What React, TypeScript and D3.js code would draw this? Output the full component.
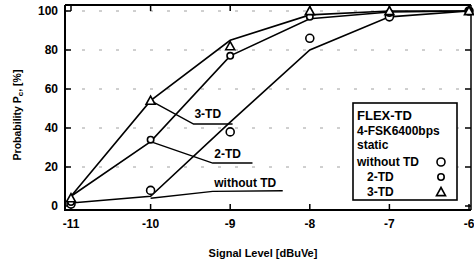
import React from "react";
import * as d3 from "d3";

const signalLevels = [-11, -10, -9, -8, -7, -6];
const xTicks = [-11, -10, -9, -8, -7, -6];
const yTicks = [0, 20, 40, 60, 80, 100];

// measured markers
const withoutTD = [1, 8, 38, 86, 97, 100];
const td2 = [2, 34, 77, 97, 99, 100];
const td3 = [4, 54, 82, 100, 100, 100];

// drawn (fitted) curves
const lineWithoutTD = [1.5, 5, 43, 80, 97, 100];
const line2TD = [5, 33, 77, 96, 99.5, 100];
const line3TD = [5, 54, 85, 98, 100, 100];

const legendLines = ["FLEX-TD", "4-FSK6400bps", "static"];

const W = 474;
const H = 265;
const FONT = "'Liberation Sans', Arial, Helvetica, sans-serif";

export default function App() {
  const x = d3.scaleLinear().domain([-11, -6]).range([71, 469]);
  const y = d3.scaleLinear().domain([0, 100]).range([206, 11]);
  const frame = { l: 65, r: 471, t: 5, b: 210 };

  const line = d3
    .line<[number, number]>()
    .x((d) => x(d[0]))
    .y((d) => y(d[1]));
  const pts = (vals: number[]) => signalLevels.map((s, i) => [s, vals[i]] as [number, number]);

  const tri = (cx: number, cy: number, s = 4.5) =>
    `M${cx},${cy - s} L${cx + s},${cy + s * 0.8} L${cx - s},${cy + s * 0.8} Z`;

  const annot = [
    { text: "3-TD", from: [-10, 54], mid: [-9.46, 42], end: [-8.97, 42], tx: -9.45, ty: 45 },
    { text: "2-TD", from: [-10, 33], mid: [-9.22, 22], end: [-8.72, 22], tx: -9.2, ty: 24.5 },
    { text: "without TD", from: [-10, 4], mid: [-9.22, 7.5], end: [-8.34, 7.8], tx: -9.2, ty: 9.5 },
  ];

  return (
    <svg width={W} height={H} style={{ position: "absolute", left: 0, top: 0, background: "#fff" }} fontFamily={FONT}>
      <rect width={W} height={H} fill="#fff" />
      {/* gridlines */}
      {yTicks.filter((t) => t > 0).map((t) => (
        <line key={"g" + t} x1={frame.l} x2={frame.r} y1={y(t)} y2={y(t)} stroke="#888" strokeWidth={0.8} strokeDasharray="3,14" />
      ))}
      {/* frame */}
      <line x1={frame.l} x2={frame.r} y1={frame.t} y2={frame.t} stroke="#000" strokeWidth={2} />
      <line x1={frame.r} x2={frame.r} y1={frame.t} y2={frame.b} stroke="#000" strokeWidth={1.5} />
      <line x1={frame.l} x2={frame.l} y1={frame.t} y2={frame.b + 1} stroke="#000" strokeWidth={2} />
      <line x1={frame.l} x2={frame.r} y1={frame.b} y2={frame.b} stroke="#000" strokeWidth={2.2} />
      {/* y ticks */}
      {yTicks.map((t) => (
        <g key={"y" + t}>
          <line x1={frame.l} x2={frame.l + 6} y1={y(t)} y2={y(t)} stroke="#000" strokeWidth={1.5} />
          <line x1={frame.r - 6} x2={frame.r} y1={y(t)} y2={y(t)} stroke="#000" strokeWidth={1.5} />
          <text x={58} y={y(t) + 4} textAnchor="end" fontSize={12} fontWeight="bold">
            {t}
          </text>
        </g>
      ))}
      {/* x ticks */}
      {xTicks.map((t) => (
        <g key={"x" + t}>
          <line x1={x(t)} x2={x(t)} y1={frame.b} y2={frame.b - 6} stroke="#000" strokeWidth={1.5} />
          <line x1={x(t)} x2={x(t)} y1={frame.t} y2={frame.t + 6} stroke="#000" strokeWidth={1.5} />
          <text x={x(t)} y={228} textAnchor="middle" fontSize={12} fontWeight="bold">
            {t}
          </text>
        </g>
      ))}
      {/* axis titles */}
      <text x={263} y={257} textAnchor="middle" fontSize={11} fontWeight="bold">
        Signal Level [dBuVe]
      </text>
      <text transform="translate(21,115) rotate(-90)" textAnchor="middle" fontSize={10.5} fontWeight="bold">
        Probability P<tspan fontSize={8} dy={2}>c</tspan>
        <tspan dy={-2}>, [%]</tspan>
      </text>
      {/* curves */}
      {[lineWithoutTD, line2TD, line3TD].map((vals, i) => (
        <path key={"l" + i} d={line(pts(vals)) || ""} fill="none" stroke="#000" strokeWidth={1.6} />
      ))}
      {/* annotations */}
      {annot.map((a) => (
        <g key={a.text}>
          <path
            d={`M${x(a.from[0])},${y(a.from[1])} L${x(a.mid[0])},${y(a.mid[1])} L${x(a.end[0])},${y(a.end[1])}`}
            fill="none"
            stroke="#000"
            strokeWidth={1.5}
          />
          <text x={x(a.tx)} y={y(a.ty)} fontSize={12} fontWeight="bold">
            {a.text}
          </text>
        </g>
      ))}
      {/* markers */}
      {withoutTD.map((v, i) => (
        <circle key={"w" + i} cx={x(signalLevels[i])} cy={y(v)} r={4} fill="#fff" stroke="#000" strokeWidth={1.6} />
      ))}
      {td2.map((v, i) => (
        <circle key={"c" + i} cx={x(signalLevels[i])} cy={y(v)} r={3.2} fill="#fff" stroke="#000" strokeWidth={1.6} />
      ))}
      {td3.map((v, i) => (
        <path key={"t" + i} d={tri(x(signalLevels[i]), y(v))} fill="#fff" stroke="#000" strokeWidth={1.6} />
      ))}
      {/* legend */}
      <rect x={353} y={103} width={104} height={97} fill="#fff" stroke="#000" strokeWidth={1.6} />
      {legendLines.map((t, i) => (
        <text key={t} x={357} y={[120, 135, 149][i]} fontSize={i === 0 ? 13 : 12} fontWeight="bold">
          {t}
        </text>
      ))}
      <text x={357} y={166} fontSize={12} fontWeight="bold">without TD</text>
      <text x={367} y={181} fontSize={12} fontWeight="bold">2-TD</text>
      <text x={367} y={196} fontSize={12} fontWeight="bold">3-TD</text>
      <circle cx={441} cy={162} r={4} fill="#fff" stroke="#000" strokeWidth={1.6} />
      <circle cx={441} cy={177} r={3.2} fill="#fff" stroke="#000" strokeWidth={1.6} />
      <path d={tri(441, 192)} fill="#fff" stroke="#000" strokeWidth={1.6} />
    </svg>
  );
}
